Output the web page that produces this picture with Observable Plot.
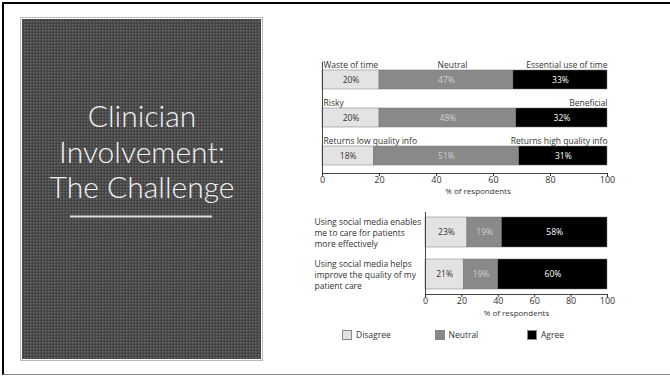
<!DOCTYPE html>
<html><head><meta charset="utf-8">
<script src="https://cdn.jsdelivr.net/npm/d3@7"></script>
<script src="https://cdn.jsdelivr.net/npm/@observablehq/plot@0.6"></script>
<style>
body{margin:0;background:#fff;}
#slide{position:relative;width:670px;height:376px;overflow:hidden;background:#fff;font-family:"Open Sans",sans-serif;}
#frame{position:absolute;left:2px;top:2px;width:700px;height:370px;border-left:2.5px solid #000;border-top:2px solid #000;border-bottom:1px solid #888;}
.abs{position:absolute;left:0;top:0;}
.chart svg{overflow:visible;}
#legend{position:absolute;left:342px;top:329px;display:flex;font-size:8.5px;color:#333;}
#legend .item{width:92.5px;display:flex;align-items:center;}
#legend .sw{width:10px;height:10px;border:1px solid #888;box-sizing:border-box;margin-right:4px;}
</style></head><body>
<div id="slide">
<div id="frame"></div>
<svg class="abs" width="670" height="376">
  <defs>
    <pattern id="dots" width="3" height="3" patternUnits="userSpaceOnUse">
      <rect width="3" height="3" fill="#444444"/>
      <rect width="1.5" height="1.5" fill="#6c6c6c"/>
    </pattern>
  </defs>
  <rect x="20.5" y="17.5" width="242" height="343" fill="#fff" stroke="#b8b8b8" stroke-width="1"/>
  <rect x="22" y="19" width="239" height="340" fill="url(#dots)"/>
  <g font-family="Lato, 'Open Sans', sans-serif" font-weight="300" font-size="30" fill="#f2f2f2" text-anchor="middle">
    <text x="142" y="127">Clinician</text>
    <text x="142" y="163">Involvement:</text>
    <text x="142" y="198">The Challenge</text>
  </g>
  <line x1="70" x2="212" y1="216.5" y2="216.5" stroke="#dcdcdc" stroke-width="2"/>
</svg>
<div id="top" class="abs chart"></div>
<div id="bottom" class="abs chart"></div>
<div id="legend"></div>
</div>
<script>
// ---- data ----
const responses = ["Disagree", "Neutral", "Agree"];
const responseColors = ["#e3e3e3", "#898989", "#000000"];
const responseTextColors = ["#333333", "#d0d0d0", "#ffffff"];

const topLeftLabels = ["Waste of time", "Risky", "Returns low quality info"];
const topRightLabels = ["Essential use of time", "Beneficial", "Returns high quality info"];
const topDisagree = [20, 20, 18];
const topNeutral = [47, 48, 51];
const topAgree = [33, 32, 31];

const bottomItems = [
  "Using social media enables\nme to care for patients\nmore effectively",
  "Using social media helps\nimprove the quality of my\npatient care"
];
const bottomDisagree = [23, 21];
const bottomNeutral = [19, 19];
const bottomAgree = [58, 60];

const xTicks = [0, 20, 40, 60, 80, 100];
const xLabel = "% of respondents";
const neutralHeader = "Neutral";

// ---- build stacked rows ----
function rows(items, series) {
  const out = [];
  items.forEach((item, i) => {
    let acc = 0;
    series.forEach((vals, k) => {
      const v = vals[i];
      out.push({item, resp: responses[k], k, value: v, x1: acc, x2: acc + v});
      acc += v;
    });
  });
  return out;
}
const topRows = rows(topLeftLabels, [topDisagree, topNeutral, topAgree]);
const bottomRows = rows(bottomItems, [bottomDisagree, bottomNeutral, bottomAgree]);

const FONT = "'Open Sans', sans-serif";
const color = {domain: responses, range: responseColors};

function barMarks(data) {
  return [
    Plot.barX(data, {x1: "x1", x2: "x2", y: "item", fill: "resp", stroke: "#777", strokeWidth: 0.5, inset: 0}),
    ...responses.map((r, k) => Plot.text(data.filter(d => d.k === k), {
      x: d => (d.x1 + d.x2) / 2, y: "item", text: d => d.value + "%",
      fill: responseTextColors[k], fontSize: 8.5
    }))
  ];
}
function axisMarks(dxLabel, dyLabel) {
  return [
    Plot.frame({anchor: "left", stroke: "#444"}),
    Plot.frame({anchor: "bottom", stroke: "#444"}),
    Plot.axisX({ticks: xTicks, tickSize: 3, tickPadding: 0, fontSize: 9, color: "#333", label: null}),
    Plot.text([xLabel], {frameAnchor: "bottom", dy: dyLabel, dx: dxLabel, fontSize: 8, fill: "#333"})
  ];
}

const topPlot = Plot.plot({
  width: 670, height: 200,
  marginLeft: 322, marginRight: 63, marginTop: 62, marginBottom: 27,
  style: {fontFamily: FONT, background: "transparent"},
  x: {domain: [0, 100], axis: null},
  y: {domain: topLeftLabels, paddingInner: 0.5, paddingOuter: 0.21, round: false, axis: null},
  color,
  marks: [
    ...barMarks(topRows),
    ...axisMarks(13, 20.5),
    Plot.text(topLeftLabels, {x: 0, y: d => d, text: d => d, textAnchor: "start", dx: 1, dy: -15, fontSize: 8.5, fill: "#333"}),
    Plot.text(topLeftLabels.map((d, i) => ({item: d, label: topRightLabels[i]})), {x: 100, y: "item", text: "label", textAnchor: "end", dy: -15, fontSize: 8.5, fill: "#333"}),
    Plot.text(topRows.filter(d => d.resp === "Neutral" && d.item === topLeftLabels[0]), {x: d => (d.x1 + d.x2) / 2, y: "item", text: () => neutralHeader, dx: 6, dy: -15, fontSize: 8.5, fill: "#333"})
  ]
});
document.getElementById("top").append(topPlot);

const bottomPlot = Plot.plot({
  width: 670, height: 320,
  marginLeft: 425, marginRight: 63, marginTop: 212, marginBottom: 26,
  style: {fontFamily: FONT, background: "transparent"},
  x: {domain: [0, 100], axis: null},
  y: {domain: bottomItems, paddingInner: 0.2857, paddingOuter: 0.119, round: false, axis: null},
  color,
  marks: [
    ...barMarks(bottomRows),
    ...axisMarks(0, 21),
    Plot.text(bottomItems, {x: 0, y: d => d, text: d => d, textAnchor: "start", dx: -111, lineHeight: 1.3, fontSize: 8.5, fill: "#333"})
  ]
});
document.getElementById("bottom").append(bottomPlot);

// ---- legend ----
const legend = document.getElementById("legend");
responses.forEach((r, k) => {
  const item = document.createElement("div");
  item.className = "item";
  const sw = document.createElement("div");
  sw.className = "sw";
  sw.style.background = responseColors[k];
  const t = document.createElement("span");
  t.textContent = r;
  item.append(sw, t);
  legend.append(item);
});
</script>
</body></html>
